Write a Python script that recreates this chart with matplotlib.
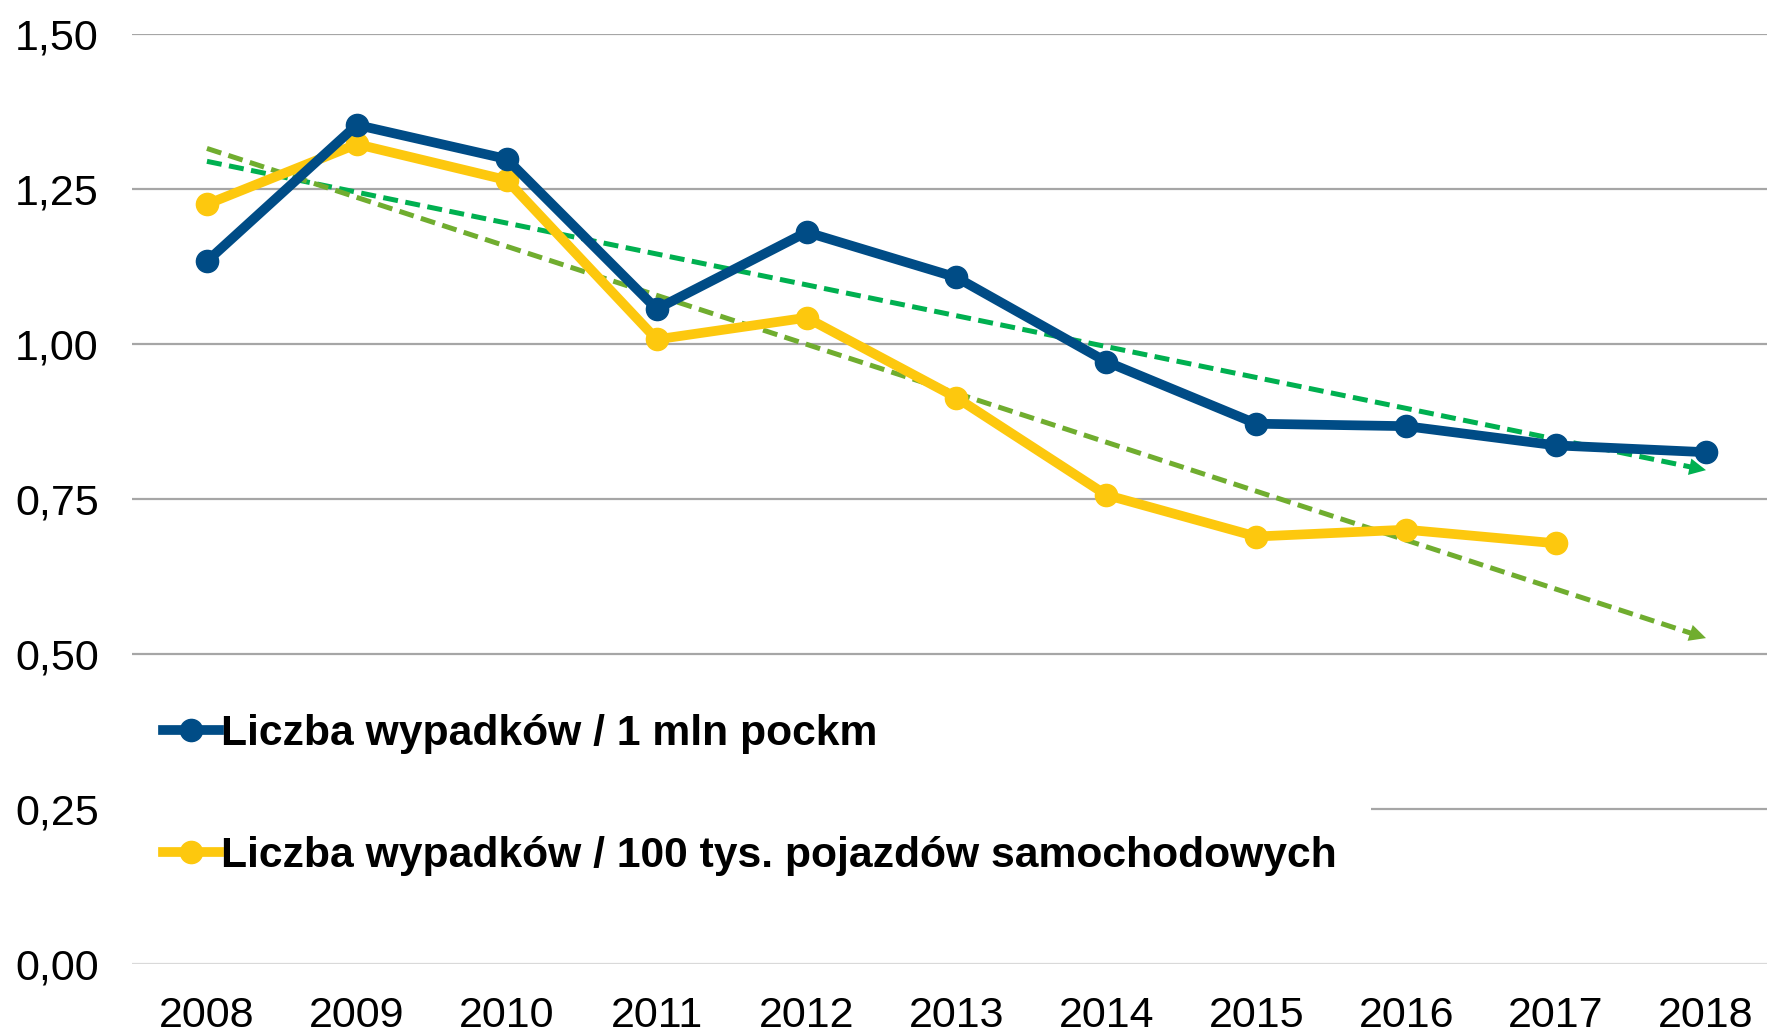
import numpy as np
import matplotlib
matplotlib.use("Agg")
import matplotlib.pyplot as plt

years = ["2008", "2009", "2010", "2011", "2012", "2013", "2014", "2015", "2016", "2017", "2018"]
per_mln_pockm = [1.133, 1.353, 1.298, 1.056, 1.180, 1.107, 0.971, 0.871, 0.867, 0.836, 0.825]
per_100k_vehicles = [1.225, 1.322, 1.264, 1.007, 1.042, 0.913, 0.756, 0.689, 0.700, 0.678]
yticks = [0.0, 0.25, 0.5, 0.75, 1.0, 1.25, 1.5]
label_a = "Liczba wypadków / 1 mln pockm"
label_b = "Liczba wypadków / 100 tys. pojazdów samochodowych"

BLUE = "#004C86"
YELLOW = "#FDC80E"
GREEN = "#00B050"
OLIVE = "#70AD2F"

plt.rcParams['font.family'] = ['Liberation Sans', 'DejaVu Sans']

W, H = 1767, 1035
fig = plt.figure(figsize=(W / 100, H / 100), dpi=100)
left = 132 / W
bottom = (H - 963.6) / H
top = (H - 33.8) / H
ax = fig.add_axes([left, bottom, 1 - left, top - bottom])

x_all = np.arange(len(years))
ax.set_xlim(-0.5, 10.407)
ax.set_ylim(0, 1.5)

# gridlines
for t in yticks:
    col = "#D9D9D9" if t == 0 else "#A6A6A6"
    ax.axhline(t, color=col, lw=1.6, zorder=0)

for s in ax.spines.values():
    s.set_visible(False)
ax.tick_params(length=0)
ax.set_yticks(yticks)
ax.set_yticklabels([f"{t:.2f}".replace(".", ",") for t in yticks], fontsize=31)
ax.set_xticks(x_all)
ax.set_xticklabels(years, fontsize=31)
ax.tick_params(axis='y', pad=24)
ax.tick_params(axis='x', pad=23)

# trend lines (linear regression of each series, extended to 2018)
def trend(vals, color):
    xv = np.arange(len(vals))
    k, b = np.polyfit(xv, vals, 1)
    x_end = 10
    y_end = k * x_end + b
    ax.plot([0, 9.9], [b, k * 9.9 + b], color=color, lw=3.6,
            dashes=(3.0, 1.5), zorder=3, clip_on=False)
    ax.annotate("", xy=(x_end, y_end), xytext=(9.8, k * 9.8 + b),
                arrowprops=dict(arrowstyle='-|>', color=color, lw=0,
                                mutation_scale=30, shrinkA=0, shrinkB=0),
                zorder=4)

ax.plot(x_all, per_mln_pockm, color=BLUE, lw=7, marker='o', markersize=16,
        zorder=5, clip_on=False, label=label_a, solid_joinstyle='round')
ax.plot(x_all[:len(per_100k_vehicles)], per_100k_vehicles, color=YELLOW, lw=7,
        marker='o', markersize=16, zorder=4, clip_on=False, label=label_b,
        solid_joinstyle='round')

trend(per_mln_pockm, GREEN)
trend(per_100k_vehicles, OLIVE)

leg = ax.legend(loc='center left', bbox_to_anchor=(129 / W, 0.2318),
                bbox_transform=fig.transFigure, frameon=True, fancybox=False,
                facecolor='white', edgecolor='none', framealpha=1,
                prop={'weight': 'bold', 'size': 30.7}, handlelength=1.3,
                handletextpad=0.06, labelspacing=1.93, borderpad=0.8,
                borderaxespad=0)
leg.set_zorder(6)

fig.savefig("out.png", dpi=100)
